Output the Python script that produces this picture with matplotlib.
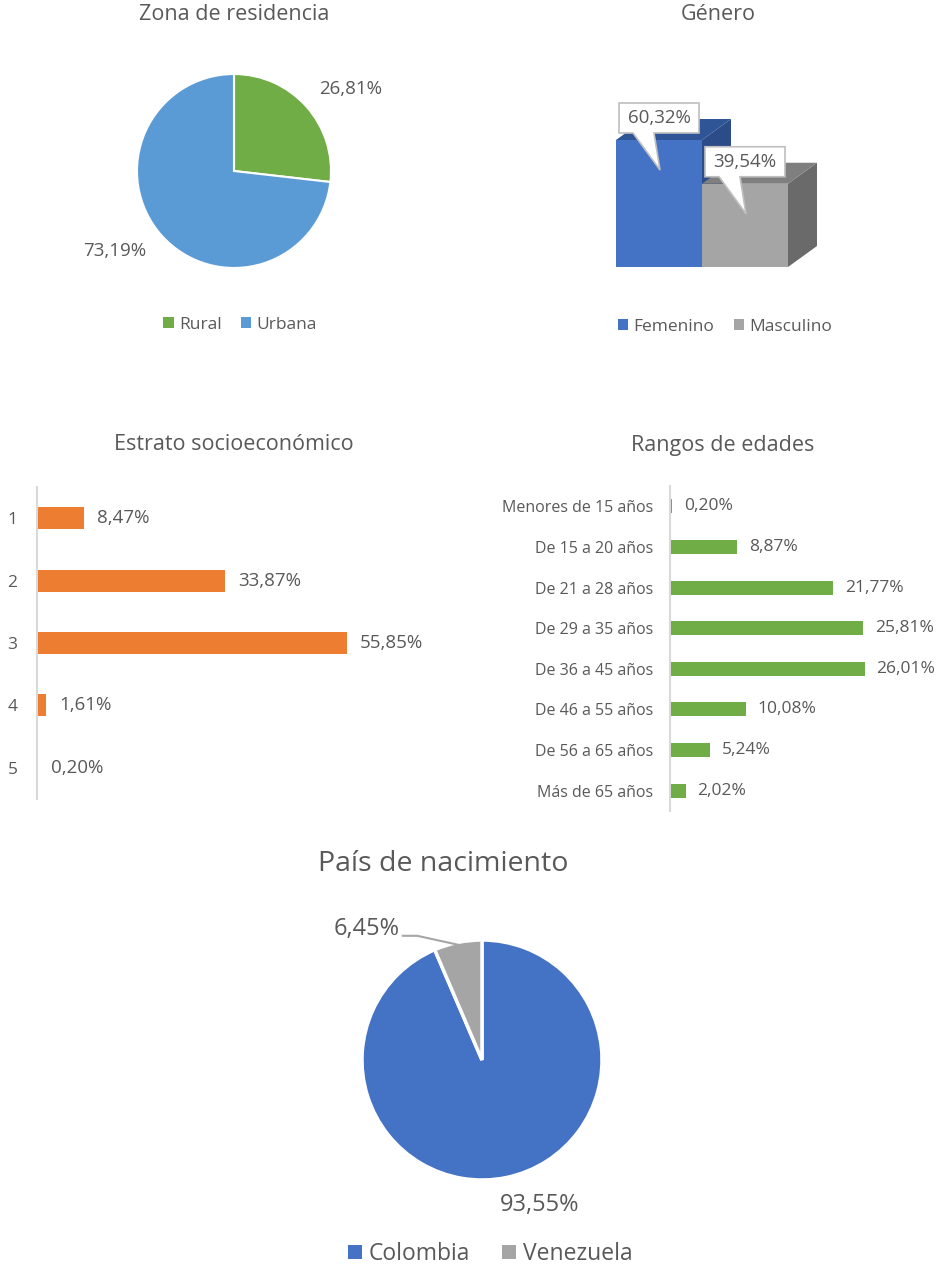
import matplotlib
matplotlib.use("Agg")
import matplotlib.pyplot as plt
import numpy as np
from matplotlib.patches import Rectangle, Polygon, Patch

plt.rcParams['font.family'] = ['Open Sans', 'DejaVu Sans']
TXT = '#595959'

# Zona de residencia
zona_labels = ['Rural', 'Urbana']
zona_vals = [26.81, 73.19]
zona_colors = ['#70AD47', '#5B9BD5']

# Genero
gen_labels = ['Femenino', 'Masculino']
gen_vals = [60.32, 39.54]
gen_front = ['#4472C4', '#A5A5A5']
gen_top = ['#2F5597', '#7F7F7F']
gen_side = ['#2B4C88', '#6A6A6A']

# Estrato socioeconomico
estrato_labels = ['1', '2', '3', '4', '5']
estrato_vals = [8.47, 33.87, 55.85, 1.61, 0.20]

# Rangos de edades
edad_labels = ['Menores de 15 años', 'De 15 a 20 años', 'De 21 a 28 años',
               'De 29 a 35 años', 'De 36 a 45 años', 'De 46 a 55 años',
               'De 56 a 65 años', 'Más de 65 años']
edad_vals = [0.20, 8.87, 21.77, 25.81, 26.01, 10.08, 5.24, 2.02]

# Pais de nacimiento
pais_labels = ['Colombia', 'Venezuela']
pais_vals = [93.55, 6.45]
pais_colors = ['#4472C4', '#A5A5A5']

W, H = 944, 1267
fig = plt.figure(figsize=(W / 100, H / 100), dpi=100)


def px_axes(l, t, r, b):
    ax = fig.add_axes([l / W, 1 - b / H, (r - l) / W, (b - t) / H])
    return ax


def pct(v):
    return f"{v:.2f}%".replace('.', ',')


def title(x, y, s, size=15.5):
    fig.text(x / W, 1 - y / H, s, ha='center', va='center', fontsize=size, color=TXT)


def sq_legend(x, y, labels, colors, size=12.5, spacing=1.1):
    handles = [Patch(facecolor=c, edgecolor='none') for c in colors]
    fig.legend(handles, labels, loc='center', bbox_to_anchor=(x / W, 1 - y / H),
               ncol=len(labels), frameon=False, fontsize=size, labelcolor=TXT,
               handlelength=0.6, handleheight=0.6, handletextpad=0.3,
               columnspacing=spacing)


# ---- pie: zona de residencia ----
title(234, 15, 'Zona de residencia')
ax1 = px_axes(84, 21, 384, 321)
lim = 150 / 97
ax1.pie(zona_vals, colors=zona_colors, startangle=90, counterclock=False,
        wedgeprops=dict(edgecolor='white', linewidth=1.5))
ax1.set_xlim(-lim, lim)
ax1.set_ylim(-lim, lim)
ax1.set_aspect('equal')
ax1.axis('off')
zona_pos = [(1.2, 0.845), (-1.227, -0.825)]
for v, (x, y) in zip(zona_vals, zona_pos):
    ax1.text(x, y, pct(v), ha='center', va='center', fontsize=13.5, color=TXT)
sq_legend(240, 325, zona_labels, zona_colors)

# ---- 3d columns: genero ----
title(718, 15, 'Género')
ax2 = px_axes(600, 95, 840, 280)
ux, uy = 86.0, 127 / 60.32
ax2.set_xlim(-0.5 - 16 / ux, -0.5 + 224 / ux)
ax2.set_ylim(-13 / uy, 172 / uy)
dx, dy = 29 / ux, 21 / uy
for i, v in enumerate(gen_vals):
    x0, x1 = i - 0.5, i + 0.5
    z = 1 + 3 * i
    ax2.add_patch(Polygon([(x1, 0), (x1, v), (x1 + dx, v + dy), (x1 + dx, dy)],
                          facecolor=gen_side[i], edgecolor='none', zorder=z))
    ax2.add_patch(Polygon([(x0, v), (x1, v), (x1 + dx, v + dy), (x0 + dx, v + dy)],
                          facecolor=gen_top[i], edgecolor='none', zorder=z + 1))
    ax2.add_patch(Rectangle((x0, 0), 1, v, facecolor=gen_front[i],
                            edgecolor='none', zorder=z + 2))
for i, v in enumerate(gen_vals):
    x0 = i - 0.5
    L, R = x0 + 3 / ux, x0 + 83 / ux
    B, T = v + 7 / uy, v + 37 / uy
    tip = (x0 + 44 / ux, v - 30 / uy)
    call = Polygon([(L, B), (x0 + 17 / ux, B), tip, (x0 + 38 / ux, B), (R, B),
                    (R, T), (L, T)], closed=True, facecolor='white',
                   edgecolor='#BFBFBF', linewidth=1.2, zorder=10)
    ax2.add_patch(call)
    ax2.text((L + R) / 2, (B + T) / 2, pct(v), ha='center', va='center',
             fontsize=13.5, color=TXT, zorder=11)
ax2.axis('off')
sq_legend(725, 327, gen_labels, gen_front)

# ---- bars: estrato ----
title(234, 445, 'Estrato socioeconómico')
ax3 = px_axes(37, 487, 440, 799)
ax3.barh(range(len(estrato_vals)), estrato_vals, height=22 / 62.3, color='#ED7D31')
ax3.set_xlim(0, 403 / 5.55)
ax3.set_ylim(len(estrato_vals) - 0.5, -0.5)
ax3.set_yticks(range(len(estrato_vals)))
ax3.set_yticklabels(estrato_labels, fontsize=12.5, color=TXT)
ax3.tick_params(axis='y', length=0, pad=14)
ax3.set_xticks([])
for s in ['top', 'right', 'bottom']:
    ax3.spines[s].set_visible(False)
ax3.spines['left'].set_color('#D9D9D9')
ax3.spines['left'].set_linewidth(1.5)
for i, v in enumerate(estrato_vals):
    ax3.annotate(pct(v), (v, i), xytext=(9.5, 0), textcoords='offset points',
                 ha='left', va='center', fontsize=13.5, color=TXT)

# ---- bars: rangos de edades ----
title(723, 445, 'Rangos de edades')
ax4 = px_axes(670, 486, 944, 811)
ax4.barh(np.arange(len(edad_vals)), edad_vals, left=0.1, height=14 / 40.6,
         color='#70AD47', zorder=3)
ax4.set_xlim(0, 274 / 7.46)
ax4.set_ylim(len(edad_vals) - 0.5, -0.5)
ax4.set_yticks(range(len(edad_vals)))
ax4.set_yticklabels(edad_labels, fontsize=11.5, color=TXT)
ax4.tick_params(axis='y', length=0, pad=12)
ax4.set_xticks([])
for s in ['top', 'right', 'bottom']:
    ax4.spines[s].set_visible(False)
ax4.spines['left'].set_color('#D9D9D9')
ax4.spines['left'].set_linewidth(1.5)
for i, v in enumerate(edad_vals):
    ax4.annotate(pct(v), (v, i), xytext=(9, 0), textcoords='offset points',
                 ha='left', va='center', fontsize=12.5, color=TXT)

# ---- pie: pais de nacimiento ----
title(443, 864, 'País de nacimiento', size=20.5)
ax5 = px_axes(282, 860, 682, 1260)
lim = 200 / 120
ax5.pie(pais_vals, colors=pais_colors, startangle=90, counterclock=False,
        wedgeprops=dict(edgecolor='white', linewidth=2.5))
ax5.set_xlim(-lim, lim)
ax5.set_ylim(-lim, lim)
ax5.set_aspect('equal')
ax5.axis('off')
ax5.text(0.483, -1.208, pct(pais_vals[0]), ha='center', va='center',
         fontsize=17, color=TXT)
ax5.text(-0.69, 1.09, pct(pais_vals[1]), ha='right', va='center',
         fontsize=17, color=TXT)
mid = np.deg2rad(90 + pais_vals[1] * 3.6 / 2)
ax5.plot([-0.66, -0.54, 0.98 * np.cos(mid)], [1.035, 1.035, 0.98 * np.sin(mid)],
         color='#A6A6A6', linewidth=1.5)
sq_legend(490, 1254, pais_labels, pais_colors, size=16.5, spacing=1.4)

fig.savefig('out.png', dpi=100, facecolor='white')
